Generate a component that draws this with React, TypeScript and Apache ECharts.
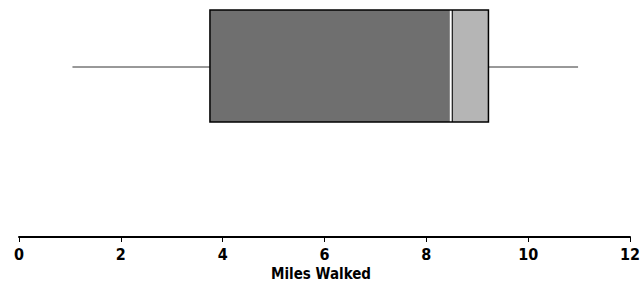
import React, { useEffect, useRef } from "react";
import * as echarts from "echarts";

const categories = ["Miles Walked"];
const boxStats = [[1.05, 3.75, 8.5, 9.22, 10.98]]; // min, Q1, median, Q3, max
const xTicks = [0, 2, 4, 6, 8, 10, 12];
const axisTitle = "Miles Walked";

export default function App() {
  const ref = useRef<HTMLDivElement>(null);
  useEffect(() => {
    document.body.style.margin = "0";
    const chart = echarts.init(ref.current!, null, { renderer: "svg" });
    const fontFamily = "'DejaVu Sans Condensed', 'DejaVu Sans', sans-serif";
    chart.setOption({
      animation: false,
      backgroundColor: "#ffffff",
      grid: [
        { left: 19, right: 12, top: 10, height: 112, outerBoundsMode: "none", containLabel: false },
        { left: 19, right: 12, top: 10, bottom: 45, outerBoundsMode: "none", containLabel: false },
      ],
      xAxis: [
        { gridIndex: 0, type: "value", min: xTicks[0], max: xTicks[xTicks.length - 1], interval: 2, show: false },
        {
          gridIndex: 1,
          type: "value",
          min: xTicks[0],
          max: xTicks[xTicks.length - 1],
          interval: 2,
          name: axisTitle,
          nameLocation: "middle",
          nameGap: 29,
          nameTextStyle: { color: "#000", fontFamily, fontWeight: "bold", fontSize: 15, padding: [0, 7, 0, 0] },
          axisLine: { show: true, lineStyle: { color: "#000", width: 2 } },
          axisTick: { show: true, length: 5, lineStyle: { color: "#000" } },
          axisLabel: { color: "#000", fontFamily, fontWeight: "bold", fontSize: 16, margin: 9 },
          splitLine: { show: false },
        },
      ],
      yAxis: [
        { gridIndex: 0, type: "category", data: categories, show: false },
        { gridIndex: 1, type: "value", show: false },
      ],
      series: [
        {
          type: "custom",
          xAxisIndex: 0,
          yAxisIndex: 0,
          data: boxStats.map((d, i) => [i, ...d]),
          encode: { x: [1, 2, 3, 4, 5], y: 0 },
          renderItem: (params: any, api: any) => {
            const idx = api.value(0);
            const mn = api.coord([api.value(1), idx]);
            const q1 = api.coord([api.value(2), idx]);
            const md = api.coord([api.value(3), idx]);
            const q3 = api.coord([api.value(4), idx]);
            const mx = api.coord([api.value(5), idx]);
            const h = api.size([0, 1])[1];
            const cy = mn[1];
            const top = cy - h / 2;
            return {
              type: "group",
              children: [
                { type: "line", shape: { x1: mn[0], y1: cy + 1, x2: q1[0], y2: cy + 1 }, style: { stroke: "#333", lineWidth: 1 } },
                { type: "line", shape: { x1: q3[0], y1: cy + 1, x2: mx[0], y2: cy + 1 }, style: { stroke: "#333", lineWidth: 1 } },
                { type: "rect", shape: { x: q1[0], y: top, width: md[0] - q1[0], height: h }, style: { fill: "#6f6f6f" } },
                { type: "rect", shape: { x: md[0], y: top, width: q3[0] - md[0], height: h }, style: { fill: "#b5b5b5" } },
                { type: "line", shape: { x1: md[0] - 1, y1: top, x2: md[0] - 1, y2: top + h }, style: { stroke: "#fff", lineWidth: 2 } },
                { type: "line", shape: { x1: md[0] + 0.5, y1: top, x2: md[0] + 0.5, y2: top + h }, style: { stroke: "#000", lineWidth: 1 } },
                { type: "rect", shape: { x: q1[0], y: top, width: q3[0] - q1[0], height: h }, style: { fill: "none", stroke: "#000", lineWidth: 1.5 } },
              ],
            };
          },
        },
      ],
    });
    return () => chart.dispose();
  }, []);
  return <div ref={ref} style={{ width: 642, height: 282 }} />;
}
